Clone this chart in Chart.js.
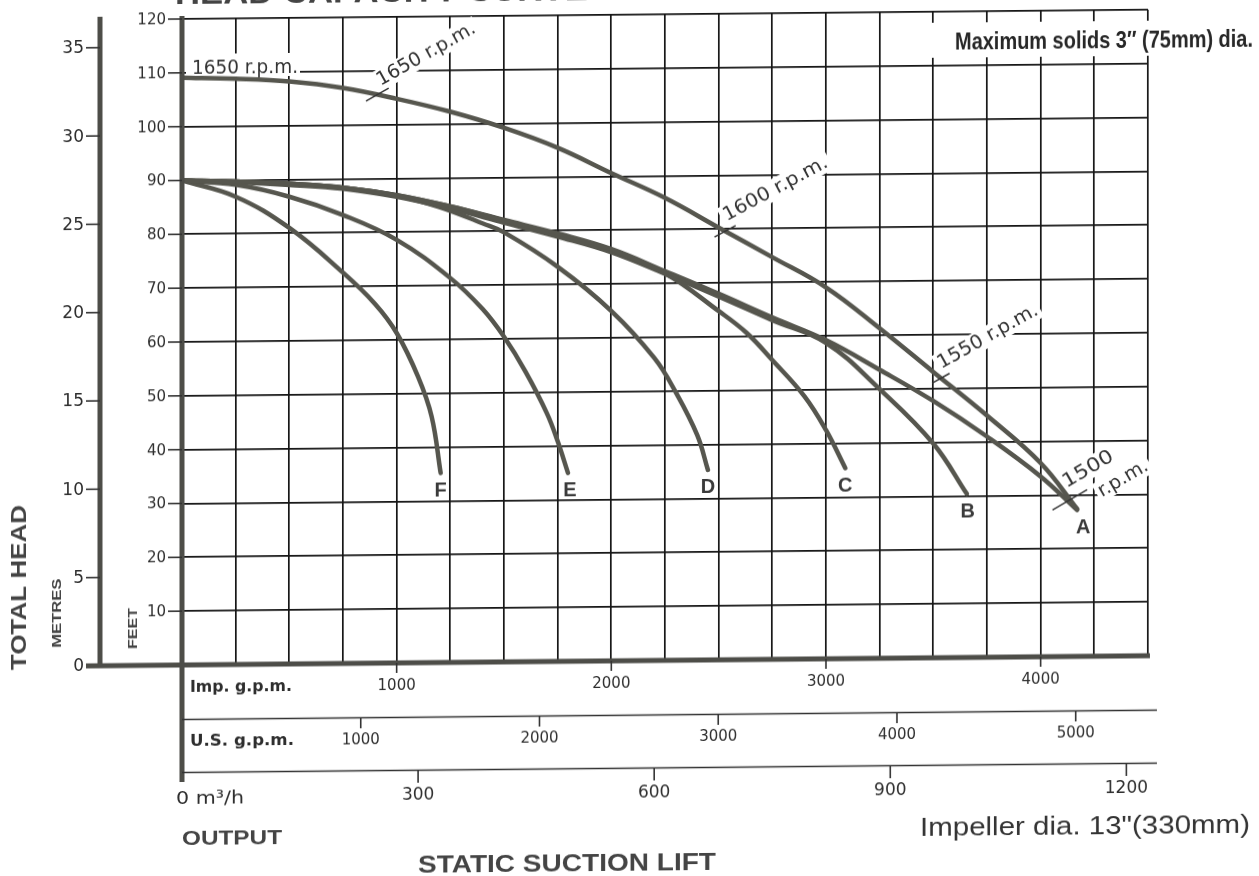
<!DOCTYPE html>
<html lang="en">
<head>
<meta charset="UTF-8">
<title>Head Capacity Curve</title>
<style>
  html, body { margin: 0; padding: 0; background: #fff; overflow: hidden; }
  .sheet { position: relative; width: 1259px; height: 876px; }
  /* the scanned sheet is slightly sheared: horizontals rise to the right */
  #curveChart { transform: skewY(-0.55deg); transform-origin: 182px 0; }
</style>
</head>
<body>
<div class="sheet"><canvas id="curveChart" width="1259" height="876"></canvas></div>

<script src="https://cdn.jsdelivr.net/npm/chart.js"></script>
<script>
// ---- values (x = Imp. g.p.m., y = feet of head) ----
const gridGpm = [0, 250, 500, 750, 1000, 1250, 1500, 1750, 2000, 2250, 2500, 2750, 3000, 3250, 3500, 3750, 4000, 4250, 4500];
const gridFeet = [0, 10, 20, 30, 40, 50, 60, 70, 80, 90, 100, 110, 120];
const feetTicks = [10, 20, 30, 40, 50, 60, 70, 80, 90, 100, 110, 120];
const metreTicks = [0, 5, 10, 15, 20, 25, 30, 35];
const impTicks = [1000, 2000, 3000, 4000];
const usTicks = [1000, 2000, 3000, 4000, 5000];
const m3hTicks = [300, 600, 900, 1200];

// top curve, 1650 r.p.m.
const rpm1650Gpm = [0, 250, 500, 750, 1000, 1250, 1500, 1750, 2000, 2250, 2500, 2750, 3000, 3250, 3500, 3750, 4000, 4170];
const rpm1650Feet = [109.1, 108.8, 108.2, 106.9, 104.8, 102.3, 99.2, 95.4, 90.6, 85.9, 80.3, 74.7, 69.0, 61.3, 53.1, 44.9, 36.0, 27.4];

// suction lift curves A..F, all starting at 90 ft
const curveAGpm = [0, 250, 500, 750, 1000, 1250, 1500, 1750, 2000, 2250, 2500, 2750, 3000, 3250, 3500, 3750, 4000, 4170];
const curveAFeet = [90.0, 89.7, 89.2, 88.4, 86.9, 84.7, 82.1, 79.5, 76.5, 72.3, 68.0, 63.5, 59.2, 53.6, 47.7, 41.0, 33.5, 27.2];
const curveBGpm = [0, 250, 500, 750, 1000, 1250, 1500, 1750, 2000, 2250, 2500, 2750, 3000, 3250, 3500, 3656];
const curveBFeet = [90.0, 89.6, 89.0, 88.2, 86.6, 84.3, 81.6, 78.9, 75.9, 71.8, 67.5, 63.0, 58.7, 50.0, 39.8, 30.4];
const curveCGpm = [0, 250, 500, 750, 1000, 1250, 1500, 1750, 2000, 2250, 2500, 2630, 2750, 2900, 3000, 3090];
const curveCFeet = [90.0, 89.7, 89.2, 88.4, 86.9, 84.7, 82.0, 79.3, 76.2, 71.9, 64.8, 60.7, 55.6, 48.8, 42.5, 35.4];
const curveDGpm = [0, 250, 500, 750, 1000, 1200, 1400, 1500, 1750, 2000, 2200, 2300, 2400, 2450];
const curveDFeet = [90.0, 89.7, 89.2, 88.4, 86.8, 84.6, 81.5, 79.8, 73.3, 65.0, 56.2, 49.8, 41.8, 35.3];
const curveEGpm = [0, 250, 500, 750, 1000, 1250, 1400, 1500, 1600, 1700, 1750, 1798];
const curveEFeet = [90.0, 89.1, 86.8, 83.3, 78.6, 71.4, 65.6, 60.4, 53.9, 46.1, 40.9, 35.0];
const curveFGpm = [0, 250, 500, 750, 900, 1000, 1100, 1163, 1205];
const curveFFeet = [90.0, 86.9, 81.0, 72.6, 66.7, 61.3, 53.1, 45.7, 35.2];

const curveLetters = ['A', 'B', 'C', 'D', 'E', 'F'];

// speed marks along the top curve
const rpmMarkGpm = [910, 2530, 3535, 4136];
const rpmMarkFeet = [105.6, 79.6, 51.9, 29.1];
const rpmMarkText = [['1650 r.p.m.'], ['1600 r.p.m.'], ['1550 r.p.m.'], ['1500', 'r.p.m.']];

// unit conversions for the extra scales
const FEET_PER_METRE = 3.28084;
const US_PER_IMP = 1.20095;
const IMP_GPM_PER_M3H = 3.66614;

const GRID_COL = '#161616';
const AXIS_COL = '#4d4d48';
const CURVE_COL = '#56564e';
const INK = '#2e2e2e';
const FONT = '"DejaVu Sans", sans-serif';
const HELV = '"Liberation Sans", Arial, sans-serif';
const NARROW = '"Liberation Sans Narrow", "Liberation Sans", sans-serif';

function toPoints(xs, ys) {
    return xs.map((v, i) => ({ x: v, y: ys[i] }));
}

// draw text squeezed/stretched to a given width, left edge at x
function fitText(ctx, str, x, y, width, font, color, baseline) {
    ctx.save();
    ctx.font = font;
    ctx.fillStyle = color;
    ctx.textAlign = 'left';
    ctx.textBaseline = baseline || 'middle';
    const w = ctx.measureText(str).width;
    ctx.translate(x, y);
    ctx.scale(width / w, 1);
    ctx.fillText(str, 0, 0);
    ctx.restore();
}

function line(ctx, x1, y1, x2, y2) {
    ctx.beginPath();
    ctx.moveTo(x1, y1);
    ctx.lineTo(x2, y2);
    ctx.stroke();
}

// layout of the rotated speed labels (in the rotated frame, px)
const rpmLayout = [
    { ang: -29, tick: 13, lines: [{ dx: 7, dy: -6, w: 110 }] },
    { ang: -28, tick: 12, lines: [{ dx: 6, dy: -8, w: 116 }] },
    { ang: -29, tick: 10, lines: [{ dx: 5, dy: -8, w: 112 }] },
    { ang: -30, tick: 20, lines: [{ dx: 3, dy: -12, w: 56 }, { dx: 29, dy: 14, w: 55 }] }
];
const RPM_FONT = '19px ' + FONT;

function eachRpmLabel(chart, fn) {
    const { x, y } = chart.scales;
    rpmMarkGpm.forEach((g, i) => {
        const px = x.getPixelForValue(g);
        const py = y.getPixelForValue(rpmMarkFeet[i]);
        fn(px, py, rpmLayout[i], rpmMarkText[i]);
    });
}

const sheetPlugin = {
    id: 'sheet',
    // white patches where labels sit over the grid
    beforeDatasetsDraw(chart) {
        const ctx = chart.ctx;
        ctx.save();
        ctx.fillStyle = '#fff';
        ctx.fillRect(928, 30, 224, 35);      // maximum solids note
        ctx.fillRect(186, 54, 114, 23);      // 1650 r.p.m. at the left
        eachRpmLabel(chart, (px, py, lay) => {
            ctx.save();
            ctx.translate(px, py);
            ctx.rotate(lay.ang * Math.PI / 180);
            lay.lines.forEach(l => ctx.fillRect(l.dx - 3, l.dy - 16, l.w + 6, 21));
            ctx.restore();
        });
        ctx.restore();
    },
    afterDatasetsDraw(chart) {
        const ctx = chart.ctx;
        const { x, y, yM, xUS, xM3 } = chart.scales;
        const area = chart.chartArea;
        const y0 = y.getPixelForValue(0);
        ctx.save();

        // heavy axis lines
        ctx.strokeStyle = AXIS_COL;
        ctx.lineWidth = 5;
        line(ctx, 86, y0, area.right + 2, y0);
        line(ctx, area.left, 16, area.left, 782);
        line(ctx, 100, 16, 100, y0);

        // feet scale
        ctx.lineWidth = 1.6;
        ctx.strokeStyle = '#333';
        ctx.fillStyle = INK;
        ctx.font = '15px ' + FONT;
        ctx.textAlign = 'right';
        ctx.textBaseline = 'middle';
        feetTicks.forEach(v => {
            const py = y.getPixelForValue(v);
            line(ctx, 168, py, area.left, py);
            ctx.fillText(String(v), 166, py + 1);
        });

        // metres scale
        ctx.font = '17px ' + FONT;
        metreTicks.forEach(v => {
            const py = yM.getPixelForValue(v);
            if (v > 0) line(ctx, 86, py, 100, py);
            ctx.fillText(String(v), 84, py + 1);
        });

        // output rows under the plot
        ctx.textAlign = 'center';
        ctx.font = '15px ' + FONT;
        impTicks.forEach(v => {
            const px = x.getPixelForValue(v);
            line(ctx, px, y0, px, y0 + 10);
            ctx.fillText(String(v), px, 688);
        });
        line(ctx, area.left, 719.5, 1157, 719.5);
        usTicks.forEach(v => {
            const px = xUS.getPixelForValue(v);
            line(ctx, px, 719.5, px, 730);
            ctx.fillText(String(v), px, 742);
        });
        line(ctx, area.left, 772.5, 1157, 772.5);
        ctx.font = '17px ' + FONT;
        m3hTicks.forEach(v => {
            const px = xM3.getPixelForValue(v);
            line(ctx, px, 772.5, px, 785);
            ctx.fillText(String(v), px, 798);
        });
        fitText(ctx, 'Imp. g.p.m.', 190, 688, 102, 'bold 15px ' + FONT, INK);
        fitText(ctx, 'U.S. g.p.m.', 190, 742, 104, 'bold 15px ' + FONT, INK);
        fitText(ctx, '0 m³/h', 176, 799, 68, '18px ' + FONT, INK);

        // curve end letters
        ctx.font = 'bold 20px ' + HELV;
        ctx.fillStyle = '#3a3a3a';
        ctx.textAlign = 'center';
        const letterDx = [6, 1, 0, 0, 2, 0];
        curveLetters.forEach((letter, i) => {
            const meta = chart.getDatasetMeta(i + 1);
            const last = meta.data[meta.data.length - 1];
            ctx.fillText(letter, last.x + letterDx[i], last.y + 18);
        });

        // speed marks
        ctx.strokeStyle = '#333';
        ctx.lineWidth = 1.5;
        eachRpmLabel(chart, (px, py, lay, texts) => {
            ctx.save();
            ctx.translate(px, py);
            ctx.rotate(lay.ang * Math.PI / 180);
            line(ctx, -lay.tick, 0, lay.tick, 0);
            lay.lines.forEach((l, k) => fitText(ctx, texts[k], l.dx, l.dy, l.w, RPM_FONT, '#333', 'alphabetic'));
            ctx.restore();
        });
        fitText(ctx, '1650 r.p.m.', 192, 74, 106, RPM_FONT, '#333', 'alphabetic');

        // titles and notes
        fitText(ctx, 'HEAD CAPACITY CURVE', 175, 4, 413, 'bold 32px ' + HELV, '#444', 'alphabetic');
        fitText(ctx, 'Maximum solids 3\u2033 (75mm) dia.', 955, 50, 298, 'bold 24px ' + NARROW, '#262626');
        fitText(ctx, 'Impeller dia. 13"(330mm)', 920, 836, 330, '26px ' + HELV, '#333');
        fitText(ctx, 'OUTPUT', 182, 839, 100, 'bold 21px ' + HELV, '#444');
        fitText(ctx, 'STATIC SUCTION LIFT', 418, 869, 298, 'bold 23px ' + HELV, '#444');

        // vertical axis titles
        const vtext = (str, cx, cy, w, font) => {
            ctx.save();
            ctx.translate(cx, cy);
            ctx.rotate(-Math.PI / 2);
            fitText(ctx, str, -w / 2, 0, w, font, '#444');
            ctx.restore();
        };
        vtext('TOTAL HEAD', 20, 586, 165, 'bold 22px ' + HELV);
        vtext('METRES', 57, 612, 69, 'bold 13px ' + HELV);
        vtext('FEET', 133, 628, 41, 'bold 13px ' + HELV);

        ctx.restore();
    }
};

const curveStyle = { borderColor: CURVE_COL, borderWidth: 4.5, pointRadius: 0, tension: 0.4, borderCapStyle: 'round', borderJoinStyle: 'round' };

new Chart(document.getElementById('curveChart'), {
    type: 'line',
    data: {
        datasets: [
            { label: '1650 r.p.m.', data: toPoints(rpm1650Gpm, rpm1650Feet), ...curveStyle },
            { label: 'A', data: toPoints(curveAGpm, curveAFeet), ...curveStyle },
            { label: 'B', data: toPoints(curveBGpm, curveBFeet), ...curveStyle },
            { label: 'C', data: toPoints(curveCGpm, curveCFeet), ...curveStyle },
            { label: 'D', data: toPoints(curveDGpm, curveDFeet), ...curveStyle },
            { label: 'E', data: toPoints(curveEGpm, curveEFeet), ...curveStyle },
            { label: 'F', data: toPoints(curveFGpm, curveFFeet), ...curveStyle }
        ]
    },
    options: {
        responsive: false,
        animation: false,
        devicePixelRatio: 1,
        layout: { padding: { left: 182, right: 111, top: 19, bottom: 211 } },
        plugins: { legend: { display: false }, tooltip: { enabled: false } },
        scales: {
            x: {
                type: 'linear', min: 0, max: 4500,
                afterBuildTicks: s => { s.ticks = gridGpm.map(v => ({ value: v })); },
                ticks: { display: false },
                grid: { color: GRID_COL, lineWidth: 1.7, drawTicks: false },
                border: { display: false }
            },
            y: {
                type: 'linear', min: 0, max: 120,
                afterBuildTicks: s => { s.ticks = gridFeet.map(v => ({ value: v })); },
                ticks: { display: false },
                grid: { color: GRID_COL, lineWidth: 1.7, drawTicks: false },
                border: { display: false }
            },
            yM: { type: 'linear', position: 'left', display: false, min: 0, max: 120 / FEET_PER_METRE },
            xUS: { type: 'linear', position: 'bottom', display: false, min: 0, max: 4500 * US_PER_IMP },
            xM3: { type: 'linear', position: 'bottom', display: false, min: 0, max: 4500 / IMP_GPM_PER_M3H }
        }
    },
    plugins: [sheetPlugin]
});
</script>
</body>
</html>
